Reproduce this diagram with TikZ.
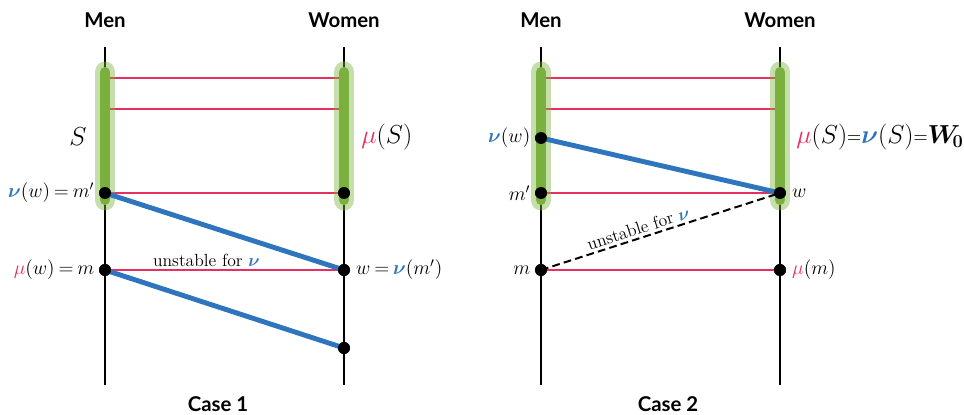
\RequirePackage{fix-cm}
\documentclass[tikz,border=0pt]{standalone}
\usepackage{amsmath}
\usepackage{amssymb}
\usepackage{fontspec}
\usepackage{bm}
\usepackage{graphicx}
\usepackage{xcolor}
\usetikzlibrary{positioning}
\newfontfamily\headfont{Lato}

\definecolor{matchred}{RGB}{232,48,96}
\definecolor{nublue}{RGB}{47,117,190}
\definecolor{bandgreen}{RGB}{122,176,62}

\newcommand{\mured}{\textcolor{matchred}{\mu}}
\newcommand{\nublue}{\textcolor{nublue}{\bm{\nu}}}
\newcommand{\releq}{\mkern-1.5mu=\mkern-1.5mu}
\newcommand{\smalleq}{\mathord{\scalebox{0.75}[0.85]{$=$}}}

\begin{document}
\begin{tikzpicture}[
  x=0.025cm, y=-0.025cm,
  head/.style={font=\headfont\bfseries\fontsize{14.5}{16}\selectfont},
  agent/.style={line width=1.4pt},
  match/.style={matchred, line width=1.4pt},
  nuline/.style={nublue, line width=3.5pt},
  band/.style={bandgreen, opacity=0.43, line width=14.9pt, line cap=round},
  core/.style={bandgreen, line width=7.1pt, line cap=round},
  dot/.style={circle, fill=black, inner sep=0pt, minimum size=8.5pt},
  lbl/.style={font=\fontsize{14}{16}\selectfont, inner sep=1pt},
  warn/.style={text=black, font=\fontsize{12.5}{14}\selectfont, inner sep=2pt},
]
\useasboundingbox (0,0) rectangle (964,414);

% ---------------- case 1
\node[head] (men1)   at (105,20) {Men};
\node[head] (women1) at (344,20) {Women};
\node[head] (case1)  at (218,404) {Case 1};

\coordinate (m1top) at (105,47);  \coordinate (m1bot) at (105,385);
\coordinate (w1top) at (344,47);  \coordinate (w1bot) at (344,385);
\draw[agent] (m1top) -- (m1bot);
\draw[agent] (w1top) -- (w1bot);

\node[dot] (mp1) at (105,193) {};
\node[dot] (wS1) at (344,193) {};
\node[dot] (m1)  at (105,270) {};
\node[dot] (w1)  at (344,270) {};
\node[dot] (wx1) at (344,348) {};

\coordinate (a1) at (105,78);  \coordinate (b1) at (344,78);
\coordinate (a2) at (105,109); \coordinate (b2) at (344,109);
\draw[match] (a1) -- (b1);
\draw[match] (a2) -- (b2);
\draw[match] (mp1) -- (wS1);
\draw[match] (m1) -- node[warn, above, pos=0.42] {unstable for $\nublue$} (w1);

\draw[band] (105,72) -- (105,200);
\draw[band] (344,72) -- (344,200);
\draw[core] (105,72) -- (105,200);
\draw[core] (344,72) -- (344,200);

\draw[nuline] (mp1.center) -- (w1.center);
\draw[nuline] (m1.center) -- (wx1.center);

\node[dot] at (mp1) {};
\node[dot] at (wS1) {};
\node[dot] at (m1) {};
\node[dot] at (w1) {};
\node[dot] at (wx1) {};

\node[font=\fontsize{18.5}{20}\selectfont] (S1) at (78,137) {$S$};
\node[font=\fontsize{18.5}{20}\selectfont, anchor=west, inner sep=0pt] (muS1) at (361,137) {$\mured(S)$};
\node[lbl, left=2pt of mp1] (mpl1) {$\nublue(w) \releq m'$};
\node[lbl, left=2pt of m1] (ml1) {$\mured(w) \releq m$};
\node[lbl, right=3pt of w1] (wl1) {$w \releq \nublue(m')$};

% ---------------- case 2
\node[head] (men2)   at (541,20) {Men};
\node[head] (women2) at (780,20) {Women};
\node[head] (case2)  at (668,404) {Case 2};

\coordinate (m2top) at (541,47);  \coordinate (m2bot) at (541,385);
\coordinate (w2top) at (780,47);  \coordinate (w2bot) at (780,385);
\draw[agent] (m2top) -- (m2bot);
\draw[agent] (w2top) -- (w2bot);

\node[dot] (nw2) at (541,138) {};
\node[dot] (mp2) at (541,193) {};
\node[dot] (w2)  at (780,193) {};
\node[dot] (m2)  at (541,270) {};
\node[dot] (mm2) at (780,270) {};

\coordinate (c1) at (541,78);  \coordinate (d1) at (780,78);
\coordinate (c2) at (541,109); \coordinate (d2) at (780,109);
\draw[match] (c1) -- (d1);
\draw[match] (c2) -- (d2);
\draw[match] (mp2) -- (w2);
\draw[match] (m2) -- (mm2);

\draw[band] (541,72) -- (541,200);
\draw[band] (780,72) -- (780,200);
\draw[core] (541,72) -- (541,200);
\draw[core] (780,72) -- (780,200);

\draw[nuline] (nw2.center) -- (w2.center);
\draw[agent, dash pattern=on 5.5pt off 3pt] (m2.center) -- node[warn, sloped, above, pos=0.42] {unstable for $\nublue$} (w2.center);

\node[dot] at (nw2) {};
\node[dot] at (mp2) {};
\node[dot] at (w2) {};
\node[dot] at (m2) {};
\node[dot] at (mm2) {};

\node[lbl, left=2pt of nw2] (nwl2) {$\nublue(w)$};
\node[lbl, left=2pt of mp2] (mpl2) {$m'$};
\node[lbl, left=2pt of m2] (ml2) {$m$};
\node[lbl, right=3pt of w2] (wl2) {$w$};
\node[lbl, right=3pt of mm2] (mml2) {$\mured(m)$};
\node[font=\fontsize{18.5}{20}\selectfont, anchor=west, inner sep=0pt] (muS2) at (796,137)
  {$\mured(S)\smalleq\nublue(S)\smalleq\bm{W_{\!0}}$};
\end{tikzpicture}
\end{document}
